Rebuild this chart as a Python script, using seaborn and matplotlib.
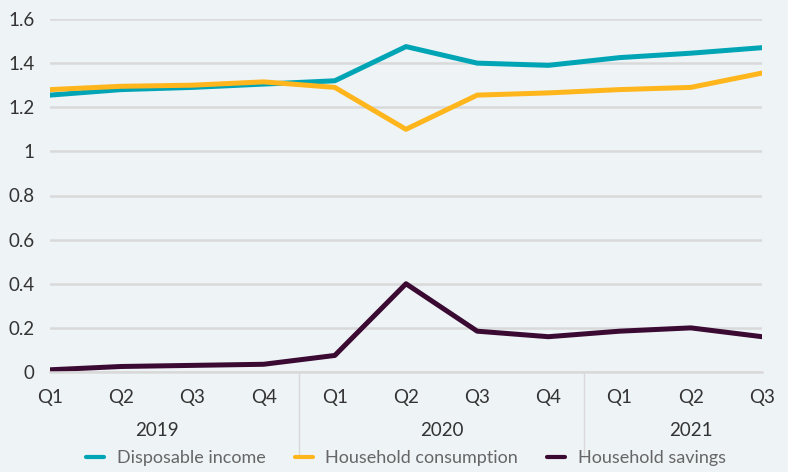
import numpy as np
import pandas as pd
import seaborn as sns
from matplotlib import pyplot as plt
from matplotlib.ticker import FixedLocator, NullFormatter, FixedFormatter

quarters = ["Q1", "Q2", "Q3", "Q4", "Q1", "Q2", "Q3", "Q4", "Q1", "Q2", "Q3"]
years = ["2019", "2020", "2021"]
year_centers = [1.5, 5.5, 9.0]
year_breaks = [3.5, 7.5]

disposable_income = [1.255, 1.28, 1.29, 1.305, 1.32, 1.475, 1.40, 1.39, 1.425, 1.445, 1.47]
household_consumption = [1.28, 1.295, 1.30, 1.315, 1.29, 1.10, 1.255, 1.265, 1.28, 1.29, 1.355]
household_savings = [0.01, 0.025, 0.03, 0.035, 0.075, 0.40, 0.185, 0.16, 0.185, 0.20, 0.16]

series_names = ["Disposable income", "Household consumption", "Household savings"]
colors = ["#00A5B5", "#FFB51C", "#3A0A33"]
bg = "#EEF3F6"
fs = 13.5

df = pd.concat([
    pd.DataFrame({"t": np.arange(len(quarters)), "value": vals, "series": name})
    for name, vals in zip(series_names, [disposable_income, household_consumption, household_savings])
])

sns.set_theme(style="white")
plt.rcParams["font.family"] = ["Lato", "DejaVu Sans"]

fig = plt.figure(figsize=(7.88, 4.72), dpi=100, facecolor=bg)
ax = fig.add_axes([50 / 788, 1 - 372 / 472, 712 / 788, 353 / 472], facecolor=bg)

sns.lineplot(data=df, x="t", y="value", hue="series", palette=colors, hue_order=series_names,
             linewidth=3.6, ax=ax, legend=True)

ax.set_xlim(0, len(quarters) - 1)
ax.set_ylim(0, 1.6)
ax.set_yticks(np.arange(0, 1.61, 0.2))
ax.set_yticklabels(["0", "0.2", "0.4", "0.6", "0.8", "1", "1.2", "1.4", "1.6"])
ax.yaxis.grid(True, color="#D9D9D9", linewidth=1.8)
ax.set_axisbelow(True)
ax.set_xlabel("")
ax.set_ylabel("")
for s in ["top", "right", "left"]:
    ax.spines[s].set_visible(False)
ax.spines["bottom"].set_color("#D9D9D9")
ax.spines["bottom"].set_linewidth(1.8)

ax.set_xticks(np.arange(len(quarters)))
ax.set_xticklabels(quarters)
ax.tick_params(axis="x", length=7, width=1, color="#D9D9D9", pad=5, labelsize=fs, labelcolor="#333333")
ax.tick_params(axis="y", length=0, pad=11, labelsize=fs, labelcolor="#333333")

sec = ax.secondary_xaxis(0)
sec.xaxis.set_major_locator(FixedLocator(year_breaks))
sec.xaxis.set_major_formatter(NullFormatter())
sec.xaxis.set_minor_locator(FixedLocator(year_centers))
sec.xaxis.set_minor_formatter(FixedFormatter(years))
sec.tick_params(axis="x", which="major", length=62, width=1, color="#D9D9D9")
sec.tick_params(axis="x", which="minor", length=0, pad=36, labelsize=fs, labelcolor="#333333")
sec.spines["bottom"].set_visible(False)

handles, labels = ax.get_legend_handles_labels()
for h in handles:
    h.set_linewidth(3)
ax.legend(handles, labels, loc="upper center", bbox_to_anchor=(0.5, -0.175), ncol=3, frameon=False,
          fontsize=13, labelcolor="#666666", handlelength=1.0, columnspacing=1.6, handletextpad=0.7)

fig.savefig("out.png", dpi=100, facecolor=bg)
